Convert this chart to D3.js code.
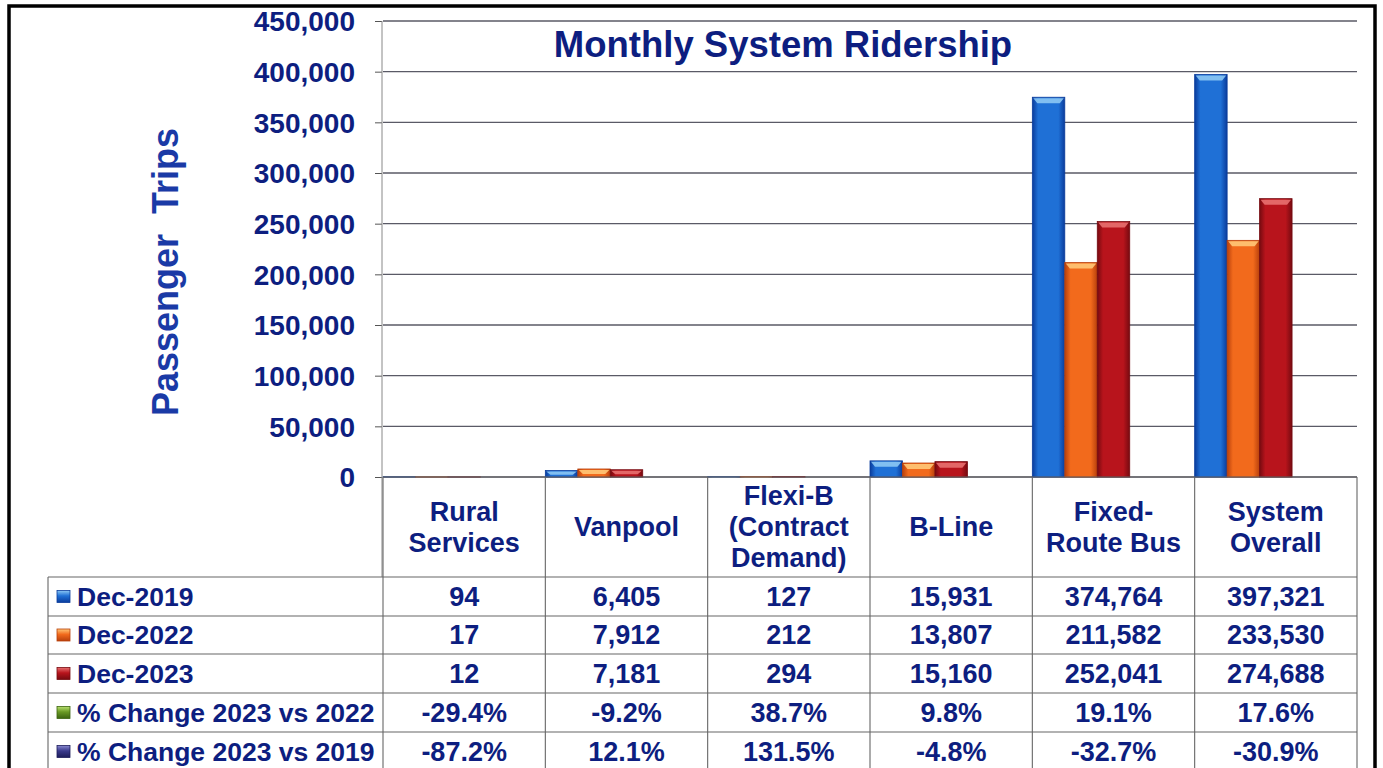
<!DOCTYPE html>
<html>
<head>
<meta charset="utf-8">
<script src="https://cdn.jsdelivr.net/npm/d3@7"></script>
<style>
  body { margin: 0; background: #fff; }
  svg { display: block; font-family: "Liberation Sans", Arial, sans-serif; font-weight: bold; }
</style>
</head>
<body>
<div id="chart"></div>
<script>
// 데이터
const categories = [["Rural", "Services"], ["Vanpool"], ["Flexi-B", "(Contract", "Demand)"], ["B-Line"], ["Fixed-", "Route Bus"], ["System", "Overall"]];
const seriesNames = ["Dec-2019", "Dec-2022", "Dec-2023"];
const dec2019 = [94, 6405, 127, 15931, 374764, 397321];
const dec2022 = [17, 7912, 212, 13807, 211582, 233530];
const dec2023 = [12, 7181, 294, 15160, 252041, 274688];
const change2322 = ["-29.4%", "-9.2%", "38.7%", "9.8%", "19.1%", "17.6%"];
const change2319 = ["-87.2%", "12.1%", "131.5%", "-4.8%", "-32.7%", "-30.9%"];
const yTicks = [0, 50000, 100000, 150000, 200000, 250000, 300000, 350000, 400000, 450000];

const navy = '#0d1e80';
const W = 1383, H = 768;
const svg = d3.select('#chart').append('svg').attr('width', W).attr('height', H);

// 색상 (3D 느낌)
const palette = [
  { main: '#1f70d6', edge: '#0a3c9c', light: '#8cc8f4' },
  { main: '#f26a1c', edge: '#b8400c', light: '#ffc878' },
  { main: '#b8141c', edge: '#760a10', light: '#e87070' }
];
const defs = svg.append('defs');
palette.forEach((p, i) => {
  const g = defs.append('linearGradient').attr('id', 'bar' + i).attr('x1', 0).attr('x2', 1).attr('y1', 0).attr('y2', 0);
  g.append('stop').attr('offset', '0%').attr('stop-color', p.edge);
  g.append('stop').attr('offset', '18%').attr('stop-color', p.main);
  g.append('stop').attr('offset', '80%').attr('stop-color', p.main);
  g.append('stop').attr('offset', '100%').attr('stop-color', p.edge);
});
const legendCols = [palette[0], palette[1], palette[2], { main: '#6a9a24', edge: '#3c6410', light: '#b8e070' }, { main: '#3a3a8c', edge: '#1c1c5a', light: '#8a8ad0' }];

const plotL = 383, plotR = 1357, plotT = 21, base = 477;
const x = d3.scaleBand().domain(d3.range(categories.length)).range([plotL, plotR]).padding(0);
const y = d3.scaleLinear().domain([0, 450000]).range([base, plotT]);
const xs = d3.scaleBand().domain(d3.range(3)).range([0, x.bandwidth() * 0.6]).padding(0);

// 외곽 테두리
svg.append('rect').attr('x', 9).attr('y', 6).attr('width', 1366).attr('height', 800)
  .attr('fill', 'none').attr('stroke', '#000').attr('stroke-width', 3.5);

// 격자선
svg.append('g').selectAll('line').data(yTicks).enter().append('line')
  .attr('x1', plotL).attr('x2', plotR)
  .attr('y1', d => y(d)).attr('y2', d => y(d))
  .attr('stroke', '#5a5a66').attr('stroke-width', 1.3);

// y축
const yAxis = svg.append('g').attr('transform', `translate(${plotL - 1},0)`)
  .call(d3.axisLeft(y).tickValues(yTicks).tickFormat(d3.format(',')).tickSize(7).tickPadding(20));
yAxis.select('.domain').remove();
yAxis.selectAll('.tick line').attr('stroke', '#555');
yAxis.selectAll('.tick text').attr('fill', navy).style('font-size', '28px').style('font-weight', 'bold')
  .style('font-family', '"Liberation Sans", Arial, sans-serif').attr('dy', '0.35em');
svg.append('line').attr('x1', plotL - 1).attr('x2', plotL - 1).attr('y1', plotT).attr('y2', 577)
  .attr('stroke', '#888').attr('stroke-width', 1);

// 제목
svg.append('text').attr('x', 783).attr('y', 57).attr('text-anchor', 'middle')
  .attr('fill', navy).style('font-size', '36.5px').text('Monthly System Ridership');

svg.append('text').attr('transform', 'translate(178,272) rotate(-90)').attr('text-anchor', 'middle')
  .attr('fill', '#1a3aa6').style('font-size', '36px').style('white-space', 'pre').text('Passenger  Trips');

// 막대
const series = [dec2019, dec2022, dec2023];
series.forEach((vals, si) => {
  const p = palette[si];
  const g = svg.append('g');
  g.selectAll('rect.b').data(vals).enter().append('rect').attr('class', 'b')
    .attr('x', (d, i) => x(i) + xs(si))
    .attr('y', d => y(d))
    .attr('width', xs.bandwidth())
    .attr('height', d => base - y(d))
    .attr('fill', `url(#bar${si})`)
    .attr('stroke', p.edge).attr('stroke-width', 0.8);
  // 윗면 하이라이트
  g.selectAll('path.cap').data(vals).enter().append('path').attr('class', 'cap')
    .attr('d', (d, i) => {
      const x0 = x(i) + xs(si), w = xs.bandwidth(), y0 = y(d);
      const h = Math.min(5, (base - y0) / 2);
      return `M${x0 + 1},${y0 + 1}L${x0 + w - 1},${y0 + 1}L${x0 + w - 5},${y0 + 1 + h}L${x0 + 5},${y0 + 1 + h}Z`;
    })
    .attr('fill', p.light).attr('opacity', 0.9);
});

// 표
const tableLeft = 48;
const rowTops = [577, 616, 654, 693, 732, 771];
const grid = svg.append('g').attr('stroke', '#666').attr('stroke-width', 1.1);
grid.append('line').attr('x1', plotL).attr('x2', plotR).attr('y1', base).attr('y2', base);
rowTops.forEach(ry => {
  grid.append('line').attr('x1', tableLeft).attr('x2', plotR).attr('y1', ry).attr('y2', ry);
});
d3.range(categories.length + 1).forEach(i => {
  const cx = i < categories.length ? x(i) : plotR;
  grid.append('line').attr('x1', cx).attr('x2', cx).attr('y1', base).attr('y2', 771);
});
grid.append('line').attr('x1', tableLeft).attr('x2', tableLeft).attr('y1', 577).attr('y2', 771);

// 카테고리 라벨
categories.forEach((lines, i) => {
  const t = svg.append('text').attr('text-anchor', 'middle').attr('fill', navy).style('font-size', '27px');
  const cy = 527, lh = 31;
  lines.forEach((ln, k) => {
    t.append('tspan').attr('x', x(i) + x.bandwidth() / 2)
      .attr('y', cy + (k - (lines.length - 1) / 2) * lh).attr('dy', '0.35em').text(ln);
  });
});

// 표 행
const rowLabels = seriesNames.concat(['% Change 2023 vs 2022', '% Change 2023 vs 2019']);
const fmt = d3.format(',');
const rows = [dec2019.map(fmt), dec2022.map(fmt), dec2023.map(fmt), change2322, change2319];
rows.forEach((vals, r) => {
  const cy = (rowTops[r] + rowTops[r + 1]) / 2;
  const c = legendCols[r];
  const lg = defs.append('linearGradient').attr('id', 'lg' + r).attr('x1', 0).attr('x2', 0).attr('y1', 0).attr('y2', 1);
  lg.append('stop').attr('offset', '0%').attr('stop-color', c.light);
  lg.append('stop').attr('offset', '45%').attr('stop-color', c.main);
  lg.append('stop').attr('offset', '100%').attr('stop-color', c.edge);
  svg.append('rect').attr('x', 57).attr('y', cy - 6).attr('width', 13).attr('height', 12)
    .attr('fill', `url(#lg${r})`).attr('stroke', c.edge).attr('stroke-width', 0.8);
  svg.append('text').attr('x', 77).attr('y', cy).attr('dy', '0.35em')
    .attr('fill', navy).style('font-size', '26.5px').text(rowLabels[r]);
  svg.append('g').selectAll('text').data(vals).enter().append('text')
    .attr('x', (d, i) => x(i) + x.bandwidth() / 2).attr('y', cy).attr('dy', '0.35em')
    .attr('text-anchor', 'middle').attr('fill', navy).style('font-size', '27px').text(d => d);
});
</script>
</body>
</html>
